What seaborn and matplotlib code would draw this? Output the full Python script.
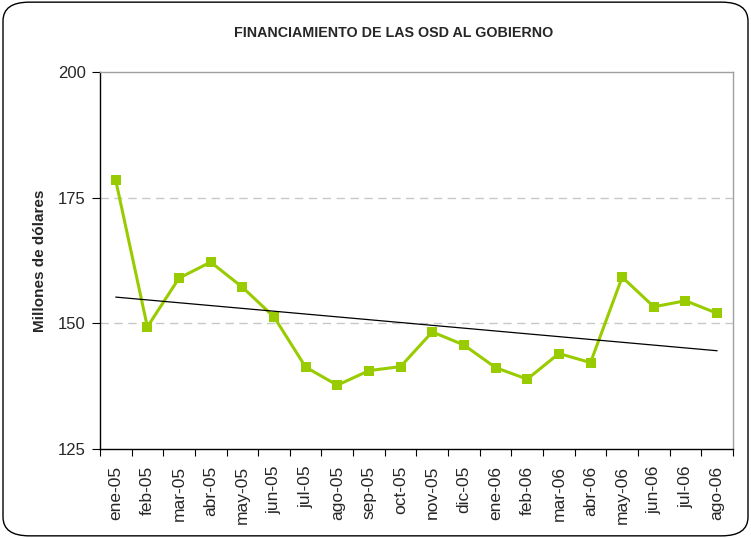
import numpy as np
import pandas as pd
import matplotlib
matplotlib.use('Agg')
import matplotlib.pyplot as plt
import seaborn as sns
from matplotlib.patches import FancyBboxPatch

months = ['ene-05', 'feb-05', 'mar-05', 'abr-05', 'may-05', 'jun-05', 'jul-05',
          'ago-05', 'sep-05', 'oct-05', 'nov-05', 'dic-05', 'ene-06', 'feb-06',
          'mar-06', 'abr-06', 'may-06', 'jun-06', 'jul-06', 'ago-06']
values = [178.5, 149.3, 159.0, 162.2, 157.2, 151.3, 141.3, 137.7, 140.6, 141.4,
          148.3, 145.7, 141.2, 138.9, 144.0, 142.2, 159.2, 153.3, 154.5, 152.0]
y_ticks = [125, 150, 175, 200]

sns.set_style('white')
plt.rcParams['font.family'] = ['Liberation Sans', 'DejaVu Sans']

df = pd.DataFrame({'idx': np.arange(len(months)), 'mes': months, 'valor': values})

fig = plt.figure(figsize=(7.51, 5.38), dpi=100)
ax = fig.add_axes([0.133, 0.1654, 0.843, 0.7006])

# marco redondeado
border = FancyBboxPatch((0.004, 0.004), 0.992, 0.992, boxstyle='round,pad=0,rounding_size=0.035',
                        transform=fig.transFigure, fill=False, edgecolor='black', linewidth=1.0)
fig.patches.append(border)

for t in [150, 175]:
    ax.axhline(t, color='#c8c8c8', linestyle=(0, (6, 4)), linewidth=1, zorder=0)

sns.lineplot(data=df, x='idx', y='valor', ax=ax, color='#99cc00', linewidth=2.2,
             marker='s', markersize=6.5, markeredgewidth=0, sort=False, zorder=3)

# linea de tendencia
coef = np.polyfit(df['idx'], df['valor'], 1)
ax.plot(df['idx'], np.polyval(coef, df['idx']), color='black', linewidth=0.9, zorder=4)

ax.set_xlim(-0.5, len(months) - 0.5)
ax.set_ylim(125, 200)
ax.set_yticks(y_ticks)
ax.set_yticklabels([str(v) for v in y_ticks], fontsize=12)
ax.set_xticks(df['idx'])
ax.set_xticklabels(months, rotation=90, fontsize=12.5)
ax.set_xticks(np.arange(-0.5, len(months), 1), minor=True)
ax.tick_params(axis='x', which='major', length=0, pad=12)
ax.tick_params(axis='x', which='minor', length=5, width=0.8, color='black', bottom=True)
ax.tick_params(axis='y', length=6, width=0.8, color='black', left=True, pad=4)

ax.set_xlabel('')
ax.set_ylabel('Millones de dólares', fontsize=11, fontweight='bold', labelpad=8)

for s in ['left', 'bottom']:
    ax.spines[s].set_color('black')
    ax.spines[s].set_linewidth(1)
for s in ['top', 'right']:
    ax.spines[s].set_color('#a0a0a0')
    ax.spines[s].set_linewidth(1)

fig.text(0.524, 0.938, 'FINANCIAMIENTO DE LAS OSD AL GOBIERNO', ha='center', va='center',
         fontsize=10.3, fontweight='bold')

fig.savefig('out.png', dpi=100)
